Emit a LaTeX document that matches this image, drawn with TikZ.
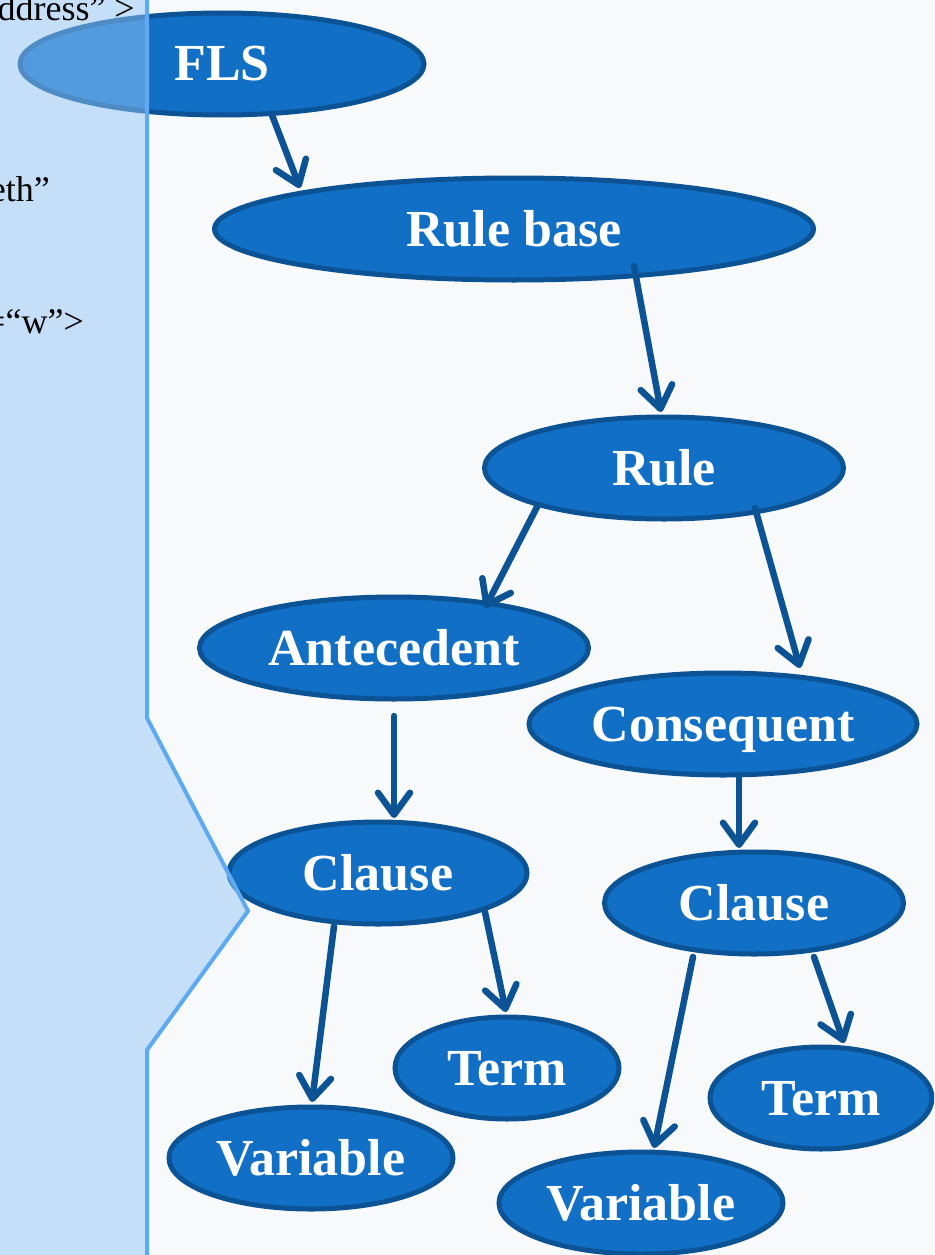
\documentclass[tikz,border=0pt]{standalone}
\usepackage{fontspec}
\setmainfont{Liberation Serif}
\usetikzlibrary{arrows.meta,calc,shapes.geometric}
\definecolor{bgc}{HTML}{F8F9FA}
\definecolor{panelc}{HTML}{94C6F7}
\definecolor{paneledge}{HTML}{5EAAF2}
\definecolor{nodefill}{HTML}{1170C6}
\definecolor{nodeedge}{HTML}{0B5395}
\tikzset{
  concept/.style={ellipse, draw=nodeedge, fill=nodefill, line width=5pt,
    inner sep=0pt, text=white, font=\fontsize{52}{52}\selectfont\bfseries,
    text height=34pt, text depth=0pt, minimum height=102pt},
  link/.style={draw=nodeedge, line width=6.5pt, line cap=round,
    -{Straight Barb[length=22pt,width=32pt,round]}},
  frag/.style={anchor=base east, inner sep=0pt, text=black,
    font=\fontsize{36}{36}\selectfont}
}
\begin{document}
\begin{tikzpicture}[x=1pt,y=-1pt]
\useasboundingbox (0,0) rectangle (934,1255);
\clip (0,0) rectangle (934,1255);
\fill[bgc] (0,0) rectangle (934,1255);

\node[concept, minimum width=404pt] (fls) at (222,64) {FLS};
\node[concept, minimum width=599pt] (rb) at (514,229) {Rule base};
\node[concept, minimum width=359pt] (rule) at (664,468) {Rule};
\node[concept, minimum width=389pt] (ant) at (394,648) {Antecedent};
\node[concept, minimum width=388pt] (cons) at (723,724) {Consequent};
\node[concept, minimum width=298pt] (clL) at (378,873) {Clause};
\node[concept, minimum width=299pt] (clR) at (754,903) {Clause};
\node[concept, minimum width=224pt] (termL) at (507,1068) {Term};
\node[concept, minimum width=284pt] (varL) at (311,1158) {Variable};
\node[concept, minimum width=222pt] (termR) at (821,1098) {Term};
\node[concept, minimum width=284pt] (varR) at (641,1203) {Variable};

% left panel (translucent over the FLS ellipse)
\coordinate (p1) at (147,-5);
\coordinate (p2) at (147,718);
\coordinate (p3) at (248,911);
\coordinate (p4) at (147,1050);
\coordinate (p5) at (147,1260);
\fill[panelc, fill opacity=0.5] (-5,-5) -- (p1) -- (p2) -- (p3) -- (p4) -- (p5) -- (-5,1260) -- cycle;
\draw[paneledge, line width=4pt] (p1) -- (p2) -- (p3) -- (p4) -- (p5);

\node[frag] (f1) at (135,21) {ddress” >};
\node[frag] (f2) at (50,201) {eth”};
\node[frag] (f3) at (84,333) {=“w”>};

% connectors
\draw[link] ($(fls)+(50,51)$) -- ($(rb)+(-214,-41)$);
\draw[link] ($(rb)+(120,37)$) -- ($(rule)+(-3,-56)$);
\draw[link] ($(rule)+(-127,39)$) -- ($(ant)+(91,-40)$);
\draw[link] ($(rule)+(91,40)$) -- ($(cons)+(77,-56)$);
\draw[link] ($(ant)+(0,68)$) -- ($(clL)+(16,-55)$);
\draw[link] ($(cons)+(16,53)$) -- ($(clR)+(-15,-55)$);
\draw[link] ($(clL)+(-44,53)$) -- ($(varL)+(1,-56)$);
\draw[link] ($(clL)+(107,39)$) -- ($(termL)+(-1,-56)$);
\draw[link] ($(clR)+(-61,54)$) -- ($(varR)+(13,-55)$);
\draw[link] ($(clR)+(60,54)$) -- ($(termR)+(23,-55)$);
\end{tikzpicture}
\end{document}
